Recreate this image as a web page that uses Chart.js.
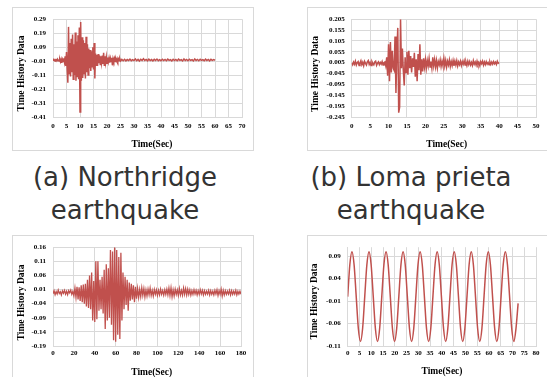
<!DOCTYPE html>
<html>
<head>
<meta charset="utf-8">
<script src="https://cdn.jsdelivr.net/npm/chart.js@4.4.1/dist/chart.umd.min.js"></script>
<style>
  html, body { margin: 0; padding: 0; background: #fff; }
  body { width: 547px; height: 377px; position: relative; overflow: hidden; }
  .box { position: absolute; border: 1px solid #d9d9d9; background: #fff; }
  .box canvas { display: block; }
  .cap { position: absolute; width: 250px; text-align: center; font-family: 'DejaVu Sans', sans-serif;
         font-size: 26px; line-height: 33px; color: #333; }
</style>
</head>
<body>
<div class="box" style="left:12px;top:7px;width:240px;height:142px"><canvas id="c1" width="240" height="142"></canvas></div>
<div class="box" style="left:307px;top:7px;width:240px;height:142px"><canvas id="c2" width="240" height="142"></canvas></div>
<div class="box" style="left:12px;top:235px;width:240px;height:142px"><canvas id="c3" width="240" height="142"></canvas></div>
<div class="box" style="left:307px;top:235px;width:240px;height:142px"><canvas id="c4" width="240" height="142"></canvas></div>
<div class="cap" style="left:0;top:161px">(a) Northridge<br>earthquake</div>
<div class="cap" style="left:286px;top:161px">(b) Loma prieta<br>earthquake</div>
<script>
// all accelerations are in thousandths (x0.001)

// (a) Northridge: 0-25 s every 0.25 s, then 25.5-60 s every 0.5 s
var nrStrong = [
  -3,-1,-6,1,-5,0,-7,2,-4,-10,
  3,-14,4,-22,2,-12,10,-18,25,-45,
  55,-70,-165,235,-100,120,-120,150,-90,180,
  -140,110,-110,195,-150,130,-120,175,-140,230,
  -375,270,-150,160,-130,140,-100,120,-135,165,
  -90,110,-110,80,-60,70,-80,60,-50,90,
  -70,120,-135,45,-40,35,-45,40,-25,30,
  -35,25,-20,30,-30,50,-40,25,-20,20,
  -25,15,-15,12,-20,10,-12,14,-40,8,
  -10,10,-12,6,-9,8,-10,5,-8,6,
  -9
];
var nrTail = [
  2,-7,3,-8,1,-6,4,-7,0,-6,
  5,-7,2,-9,3,-5,7,-5,2,-8,
  4,-6,1,-8,3,-5,5,-7,0,-7,
  3,-6,2,-7,4,-5,1,-8,3,-6,
  2,-7,4,-5,1,-8,5,-6,2,-7,
  3,-5,1,-8,5,-6,2,-7,3,-5,
  1,-7,4,-6,2,-8,3,-5,1,-4
];
var nrXTicks = [0,5,10,15,20,25,30,35,40,45,50,55,60,65,70];
var nrYTicks = [-0.41,-0.31,-0.21,-0.11,-0.01,0.09,0.19,0.29];

// (b) Loma prieta: 0-40 s every 0.25 s
var lpAcc = [
  3,-5,8,-2,12,-6,5,10,-8,4,14,-4,7,-9,11,2,-6,9,15,-3,6,-8,10,1,-5,8,12,-7,3,9,-4,6,-2,10,-6,5,
  8,-10,30,-55,90,-80,100,-40,60,-20,-30,125,-135,50,165,-225,-200,205,-20,70,-30,-100,30,-40,
  55,-50,60,-20,35,-40,25,-15,50,-60,20,-80,45,-30,90,-50,20,-35,25,-15,
  20,-20,15,-10,25,-15,10,-20,30,-10,20,-15,15,-20,10,-5,18,-12,12,-8,
  25,-10,15,-15,12,-5,18,-12,10,-8,15,-10,12,-6,14,-10,8,-4,12,-8,
  10,-2,14,-6,8,-8,12,-4,10,-6,6,-8,14,-2,8,-6,12,-4,6,-8,
  10,0,12,-6,8,-4,10,-2,6,-5,9,-3,8,-2,10,0,7,-3,12,2,
  6
];
var lpXTicks = [0,5,10,15,20,25,30,35,40,45,50];
var lpYTicks = [-0.245,-0.195,-0.145,-0.095,-0.045,0.005,0.055,0.105,0.155,0.205];

// (c) long record: every 1 s, 0-180 s
var lgQuiet = [-5,6,-8,3,-6,8,-4,2,-9,5,-3,7,-6,4,-8,6,-2,8,-7,3];
var lgStrong = [
  -12,15,-18,20,-25,18,-30,25,-35,28,
  -40,30,-50,45,-55,60,-60,70,-100,40,
  -105,110,-95,110,-65,45,-60,55,-75,80,
  -130,100,-100,85,-90,150,-115,145,-170,160,
  -175,150,-150,125,-165,140,-100,70,-60,55,
  -45,45,-65,35,-30,30,-25,25,-35,20
];
var lgTail = [
  -22,14,-18,10,-15,16,-11,13,-16,9,
  -13,11,-9,15,-11,7,-13,10,-7,9,
  -11,7,-9,11,-7,6,-10,9,-7,11,
  -9,15,-11,16,-15,9,-13,11,-7,9,
  -11,13,-9,7,-10,15,-7,13,-9,11,
  -7,9,-10,6,-7,9,-6,7,-9,6,
  -7,9,-6,7,-9,6,-7,4,-6,7,
  -9,6,-7,4,-9,7,-6,9,-11,6,
  -7,11,-13,7,-9,6,-7,4,-6,7,
  -9,6,-7,4,-6,7,-9,4,-6,4,
  -7
];
var lgXTicks = [0,20,40,60,80,100,120,140,160,180];
var lgYTicks = [-0.19,-0.14,-0.09,-0.04,0.01,0.06,0.11,0.16];

// (d) harmonic input: every 0.905 s
var snAcc = [
  0,71,100,71,0,-71,-100,-71, 0,71,100,71,0,-71,-100,-71,
  0,71,100,71,0,-71,-100,-71, 0,71,100,71,0,-71,-100,-71,
  0,71,100,71,0,-71,-100,-71, 0,71,100,71,0,-71,-100,-71,
  0,71,100,71,0,-71,-100,-71, 0,71,100,71,0,-71,-100,-71,
  0,71,100,71,0,-71,-100,-71, 0,71,100,71,0,-71,-100,-71,
  -15
];
var snXTicks = [0,5,10,15,20,25,30,35,40,45,50,55,60,65,70,75,80];
var snYTicks = [-0.11,-0.06,-0.01,0.04,0.09];

var xTitle = 'Time(Sec)';
var yTitle = 'Time History Data';

function toPoints(values, dt, t0) {
  return values.map(function (v, i) { return { x: t0 + i * dt, y: v / 1000 }; });
}

var red = '#c0504d';
var gridColor = '#d9d9d9';
var tickFont = { family: 'Liberation Serif', weight: 'bold', size: 7 };
var W = 240, H = 142;

// Excel puts the axis titles a bit off the plot centre, so they are drawn here by hand
var axisTitles = {
  id: 'axisTitles',
  afterDraw: function (chart, args, o) {
    var ctx = chart.ctx;
    ctx.save();
    ctx.fillStyle = '#000';
    ctx.font = 'bold 9.5px "Liberation Serif"';
    ctx.textAlign = 'center';
    ctx.textBaseline = 'middle';
    ctx.fillText(xTitle, o.x[0], o.x[1]);
    ctx.translate(o.y[0], o.y[1]);
    ctx.rotate(-Math.PI / 2);
    ctx.fillText(yTitle, 0, 0);
    ctx.restore();
  }
};

function drawChart(id, points, s) {
  new Chart(document.getElementById(id), {
    type: 'line',
    data: {
      datasets: [{
        data: points,
        borderColor: red,
        borderWidth: s.lineWidth || 1.5,
        pointRadius: 0,
        fill: false,
        tension: s.smooth ? 0.4 : 0,
        cubicInterpolationMode: s.smooth ? 'monotone' : 'default'
      }]
    },
    plugins: [axisTitles],
    options: {
      responsive: false,
      animation: false,
      layout: { padding: { left: 0, top: s.plot[1], right: W - s.plot[2], bottom: 0 } },
      plugins: {
        legend: { display: false },
        tooltip: { enabled: false },
        axisTitles: { x: s.xTitleAt, y: s.yTitleAt }
      },
      scales: {
        x: {
          type: 'linear',
          min: 0,
          max: s.xTicks[s.xTicks.length - 1],
          afterBuildTicks: function (sc) { sc.ticks = s.xTicks.map(function (v) { return { value: v }; }); },
          afterFit: function (sc) { sc.height = H - s.plot[3]; },
          grid: { color: gridColor, drawTicks: false },
          border: { color: gridColor },
          ticks: { autoSkip: false, maxRotation: 0, padding: s.xPad, font: tickFont, color: '#000',
                   callback: function (v) { return String(v); } }
        },
        y: {
          min: s.yMin,
          max: s.yMax,
          afterBuildTicks: function (sc) { sc.ticks = s.yTicks.map(function (v) { return { value: v }; }); },
          afterFit: function (sc) { sc.width = s.plot[0]; },
          grid: { color: gridColor, drawTicks: false },
          border: { color: gridColor },
          ticks: { autoSkip: false, padding: 7, font: tickFont, color: '#000',
                   callback: function (v) { return v.toFixed(s.digits); } }
        }
      }
    }
  });
}

drawChart('c1', toPoints(nrStrong, 0.25, 0).concat(toPoints(nrTail, 0.5, 25.5)), {
  xTicks: nrXTicks, yTicks: nrYTicks, yMin: -0.41, yMax: 0.29, digits: 2,
  plot: [40, 6.7, 229, 109], xPad: 5, xTitleAt: [139, 137], yTitleAt: [9, 65.5]
});
drawChart('c2', toPoints(lpAcc, 0.25, 0), {
  xTicks: lpXTicks, yTicks: lpYTicks, yMin: -0.245, yMax: 0.205, digits: 3,
  plot: [43.7, 7, 228, 109], xPad: 5, xTitleAt: [138.7, 137], yTitleAt: [8, 66]
});
drawChart('c3', toPoints(lgQuiet, 1, 0).concat(toPoints(lgStrong, 1, 20), toPoints(lgTail, 1, 80)), {
  xTicks: lgXTicks, yTicks: lgYTicks, yMin: -0.19, yMax: 0.16, digits: 2,
  plot: [40, 6.3, 228, 110], xPad: 3, xTitleAt: [138.7, 137], yTitleAt: [9, 66.5], lineWidth: 1.3
});
drawChart('c4', toPoints(snAcc, 0.905, 0), {
  xTicks: snXTicks, yTicks: snYTicks, yMin: -0.11, yMax: 0.11, digits: 2,
  plot: [39.7, 5.3, 228, 110], xPad: 3, xTitleAt: [134, 136], yTitleAt: [7, 65.5], smooth: true
});
</script>
</body>
</html>
